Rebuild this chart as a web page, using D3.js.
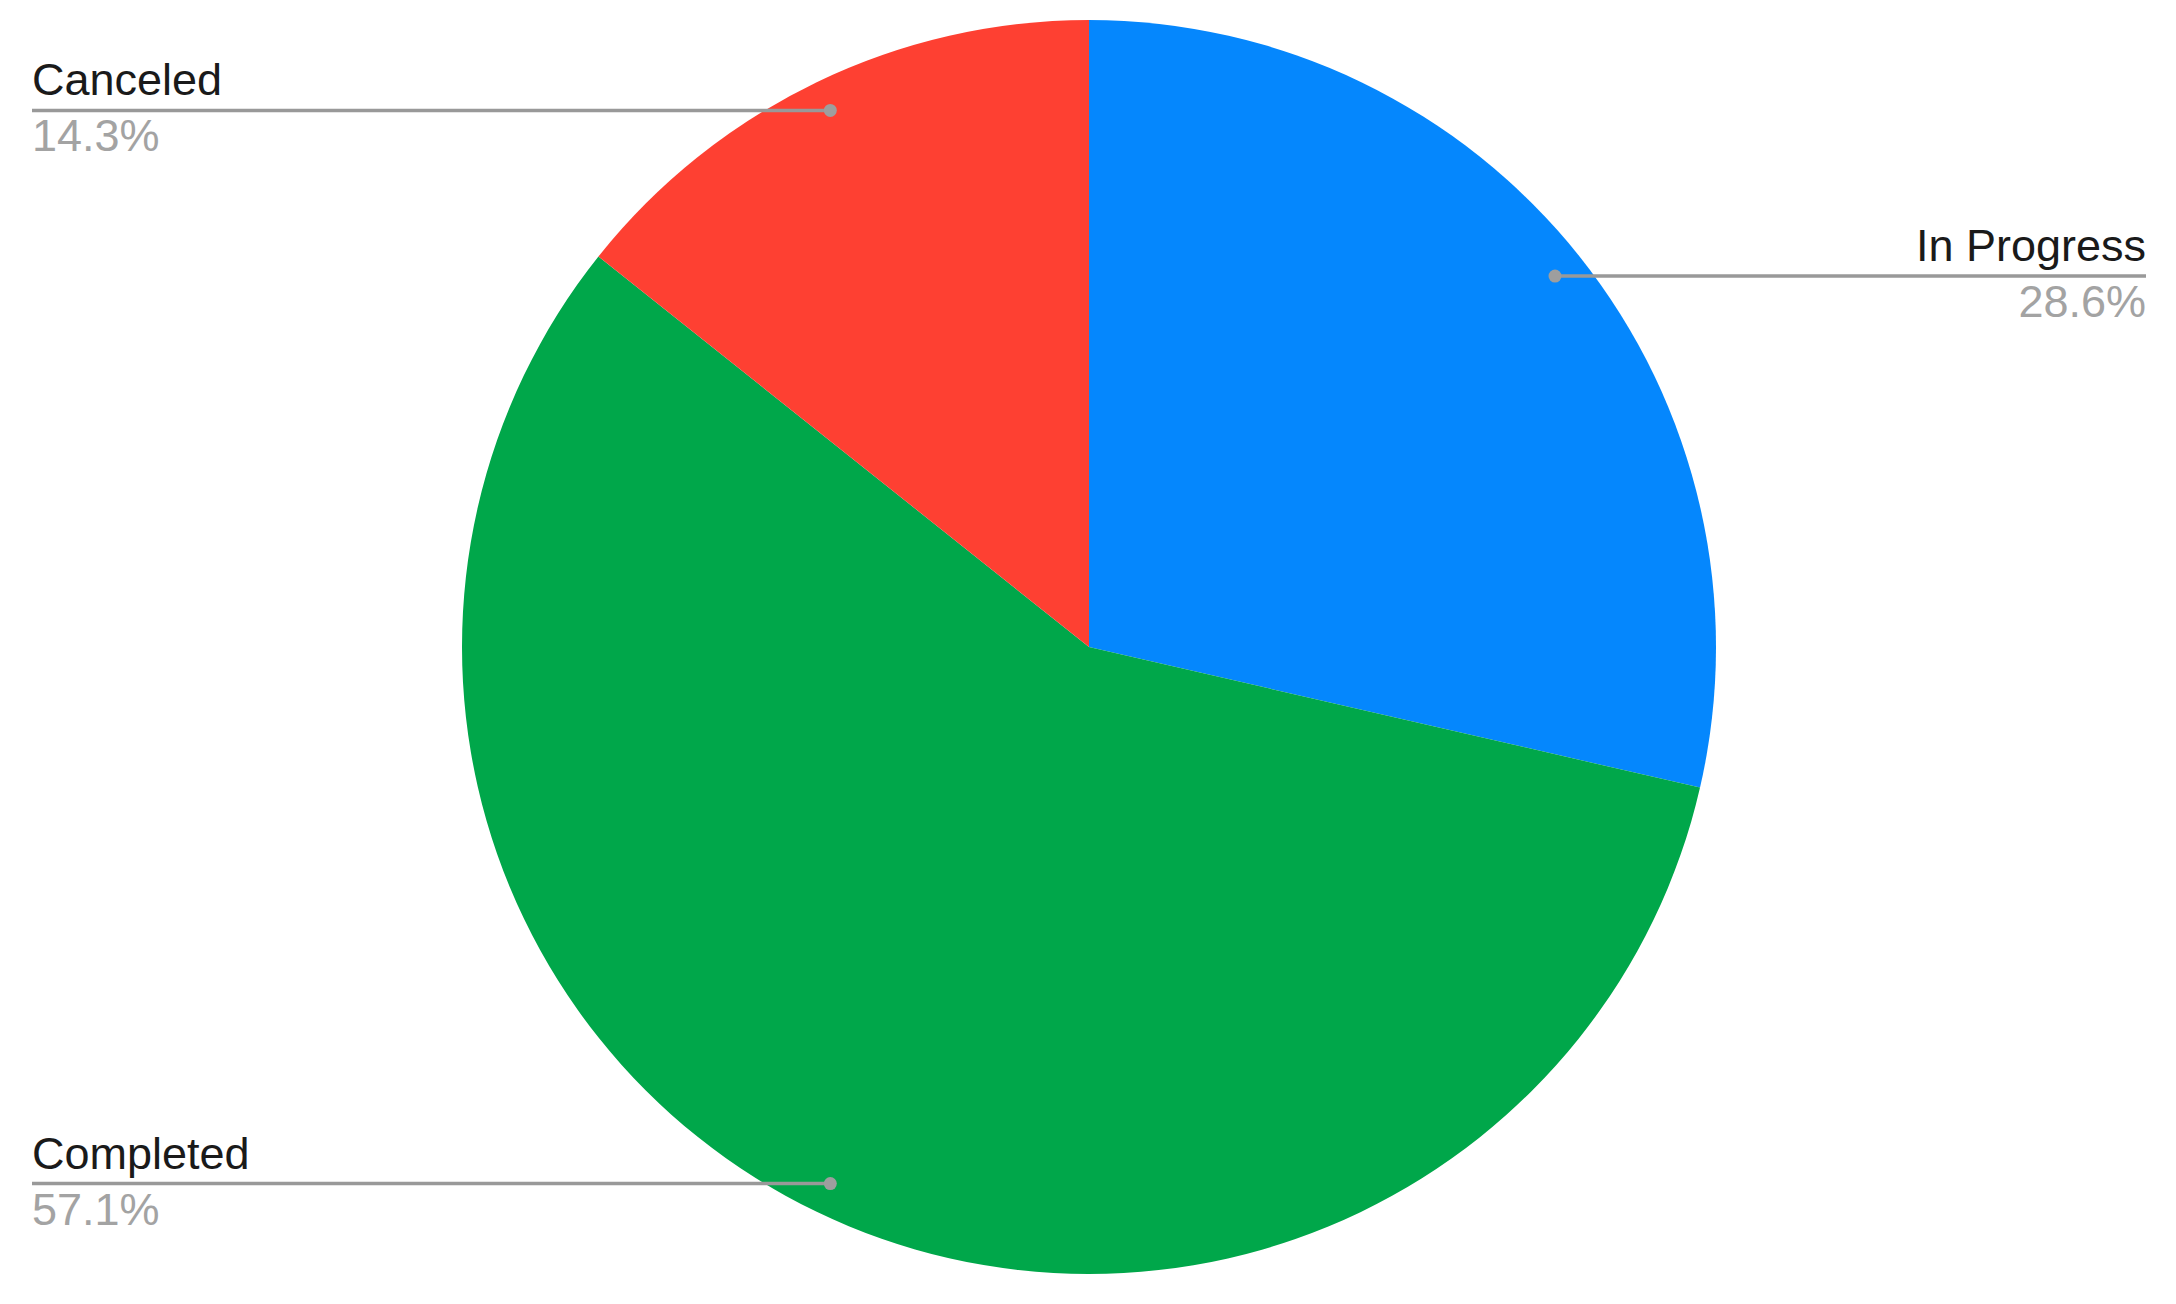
<!DOCTYPE html>
<html>
<head>
<meta charset="utf-8">
<script src="https://cdn.jsdelivr.net/npm/d3@7"></script>
<style>
  html, body { margin: 0; padding: 0; background: #fff; }
  svg { display: block; }
</style>
</head>
<body>
<div id="chart"></div>
<script>
// chart data
const categories = ["In Progress", "Completed", "Canceled"];
const shares = [28.6, 57.1, 14.3];
const sliceColors = ["#0587fd", "#00a74a", "#fe4032"];

const width = 2176, height = 1304;
const cx = 1089, cy = 647, radius = 627;
const leftEdge = 32, rightEdge = 2146;

const svg = d3.select("#chart")
  .append("svg")
  .attr("width", width)
  .attr("height", height);

const pie = d3.pie().sort(null).value(d => d.value);
const arcs = pie(categories.map((c, i) => ({ name: c, value: shares[i], color: sliceColors[i] })));

const arc = d3.arc().innerRadius(0).outerRadius(radius);

const g = svg.append("g").attr("transform", `translate(${cx},${cy})`);

g.selectAll("path")
  .data(arcs)
  .join("path")
  .attr("d", arc)
  .attr("fill", d => d.data.color);

// leader lines + labels
const labels = svg.append("g");
arcs.forEach(a => {
  const mid = (a.startAngle + a.endAngle) / 2;
  const px = cx + Math.sin(mid) * radius * 0.95;
  const py = cy - Math.cos(mid) * radius * 0.95;
  const right = Math.sin(mid) > 0;
  const endX = right ? rightEdge : leftEdge;

  labels.append("line")
    .attr("x1", px).attr("y1", py)
    .attr("x2", endX).attr("y2", py)
    .attr("stroke", "#999")
    .attr("stroke-width", 3.5);

  labels.append("circle")
    .attr("cx", px).attr("cy", py)
    .attr("r", 6.5)
    .attr("fill", "#9e9e9e");

  labels.append("text")
    .attr("x", endX)
    .attr("y", py - 15)
    .attr("text-anchor", right ? "end" : "start")
    .attr("font-family", "Liberation Sans, Arial, sans-serif")
    .attr("font-size", 45)
    .attr("fill", "#1a1a1a")
    .text(a.data.name);

  labels.append("text")
    .attr("x", endX)
    .attr("y", py + 41)
    .attr("text-anchor", right ? "end" : "start")
    .attr("font-family", "Liberation Sans, Arial, sans-serif")
    .attr("font-size", 45)
    .attr("fill", "#a3a3a3")
    .text(a.data.value.toFixed(1) + "%");
});
</script>
</body>
</html>
